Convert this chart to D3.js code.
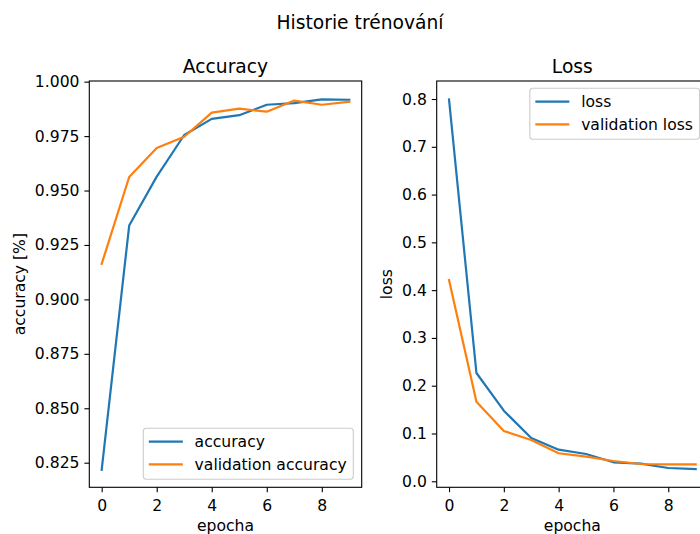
<!DOCTYPE html>
<html>
<head>
<meta charset="utf-8">
<script src="https://cdn.jsdelivr.net/npm/d3@7"></script>
<style>
  body { margin: 0; background: #fff; }
  svg { display: block; overflow: hidden; }
</style>
</head>
<body>
<script>
// Historie trénování - accuracy & loss per epoch

const epochs = [0, 1, 2, 3, 4, 5, 6, 7, 8, 9];
const accuracy = [0.8217, 0.9339, 0.9564, 0.9755, 0.9829, 0.9846, 0.9894, 0.9901, 0.9919, 0.9917];
const valAccuracy = [0.9163, 0.9562, 0.9695, 0.9747, 0.9858, 0.9876, 0.9862, 0.9913, 0.9894, 0.9908];
const loss = [0.799, 0.2266, 0.1477, 0.0906, 0.0662, 0.0571, 0.0397, 0.0369, 0.0278, 0.0257];
const valLoss = [0.4212, 0.1666, 0.1053, 0.0864, 0.0586, 0.0515, 0.0425, 0.0362, 0.0355, 0.0352];

const xTicks = [0, 2, 4, 6, 8];
const accTicks = [0.825, 0.850, 0.875, 0.900, 0.925, 0.950, 0.975, 1.000];
const lossTicks = [0.0, 0.1, 0.2, 0.3, 0.4, 0.5, 0.6, 0.7, 0.8];

const width = 700, height = 534;
const blue = "#1f77b4", orange = "#ff7f0e";
const font = "'DejaVu Sans', sans-serif";
const fs = 15.6;      // tick / label font
const tfs = 18.7;     // title font

const svg = d3.select("body").append("svg")
  .attr("width", width)
  .attr("height", height)
  .style("font-family", font);

svg.append("text")
  .attr("x", 360)
  .attr("y", 29.3)
  .attr("text-anchor", "middle")
  .style("font-size", tfs + "px")
  .text("Historie trénování");

function panel(opts) {
  const x = d3.scaleLinear().domain([-0.45, 9.45]).range([opts.left, opts.right]);
  const y = d3.scaleLinear().domain(opts.yDomain).range([487.3, 81]);
  const g = svg.append("g");

  // axes
  const ax = g.append("g")
    .attr("transform", `translate(0,487.3)`)
    .call(d3.axisBottom(x).tickValues(xTicks).tickFormat(d3.format("d"))
      .tickSize(4.9).tickPadding(4.9).tickSizeOuter(0));
  ax.select(".domain").remove();
  ax.selectAll("text").attr("dy", "0.87em");

  const ay = g.append("g")
    .attr("transform", `translate(${opts.left},0)`)
    .call(d3.axisLeft(y).tickValues(opts.yTicks).tickFormat(opts.yFormat)
      .tickSize(4.9).tickPadding(4.9).tickSizeOuter(0));
  ay.select(".domain").remove();

  [ax, ay].forEach(a => {
    a.attr("font-family", font).attr("font-size", fs);
    a.selectAll("line").attr("stroke", "#000").attr("stroke-width", 1.1);
    a.selectAll("text").attr("fill", "#000");
  });

  // lines
  const line = vals => d3.line().x((d, i) => x(epochs[i])).y(d => y(d))(vals);
  opts.series.forEach(s => {
    g.append("path")
      .attr("d", line(s.values))
      .attr("fill", "none")
      .attr("stroke", s.color)
      .attr("stroke-width", 2.2)
      .attr("stroke-linecap", "square")
      .attr("stroke-linejoin", "round");
  });

  // frame
  g.append("rect")
    .attr("x", opts.left).attr("y", 81)
    .attr("width", opts.right - opts.left).attr("height", 487.3 - 81)
    .attr("fill", "none").attr("stroke", "#000").attr("stroke-width", 1.1);

  const cx = (opts.left + opts.right) / 2;
  g.append("text").attr("x", cx).attr("y", 72.7)
    .attr("text-anchor", "middle").style("font-size", tfs + "px").text(opts.title);
  g.append("text").attr("x", cx).attr("y", 530.5)
    .attr("text-anchor", "middle").style("font-size", fs + "px").text("epocha");
  g.append("text")
    .attr("transform", `translate(${opts.ylabelX},${(81 + 487.3) / 2}) rotate(-90)`)
    .attr("text-anchor", "middle").style("font-size", fs + "px").text(opts.ylabel);

  // legend
  const lg = g.append("g");
  const box = lg.append("rect")
    .attr("fill", "#fff").attr("fill-opacity", 0.8)
    .attr("stroke", "#cccccc").attr("stroke-width", 1.1)
    .attr("rx", 3).attr("ry", 3);
  let maxW = 0;
  opts.series.forEach((s, i) => {
    lg.append("line")
      .attr("x1", 5.5).attr("x2", 39.5)
      .attr("y1", 13.4 + i * 22.6).attr("y2", 13.4 + i * 22.6)
      .attr("stroke", s.color).attr("stroke-width", 2.2);
    const t = lg.append("text")
      .attr("x", 51.3).attr("y", 13.4 + i * 22.6 + 5.5)
      .style("font-size", fs + "px").text(s.label);
    maxW = Math.max(maxW, t.node().getComputedTextLength());
  });
  const bw = 51.3 + maxW + 6.6, bh = 51;
  box.attr("width", bw).attr("height", bh);
  const lx = opts.right - 8.4 - bw;
  const ly = opts.legend === "lower" ? 487.3 - 8 - bh : 81 + 7.3;
  lg.attr("transform", `translate(${lx},${ly})`);
}

panel({
  left: 89.3, right: 361.7,
  yDomain: [0.8137, 1.0003],
  yTicks: accTicks, yFormat: d3.format(".3f"),
  title: "Accuracy", ylabel: "accuracy [%]", ylabelX: 24.5,
  legend: "lower",
  series: [
    {label: "accuracy", values: accuracy, color: blue},
    {label: "validation accuracy", values: valAccuracy, color: orange}
  ]
});

panel({
  left: 436.7, right: 708,
  yDomain: [-0.0126, 0.8377],
  yTicks: lossTicks, yFormat: d3.format(".1f"),
  title: "Loss", ylabel: "loss", ylabelX: 391.7,
  legend: "upper",
  series: [
    {label: "loss", values: loss, color: blue},
    {label: "validation loss", values: valLoss, color: orange}
  ]
});
</script>
</body>
</html>
